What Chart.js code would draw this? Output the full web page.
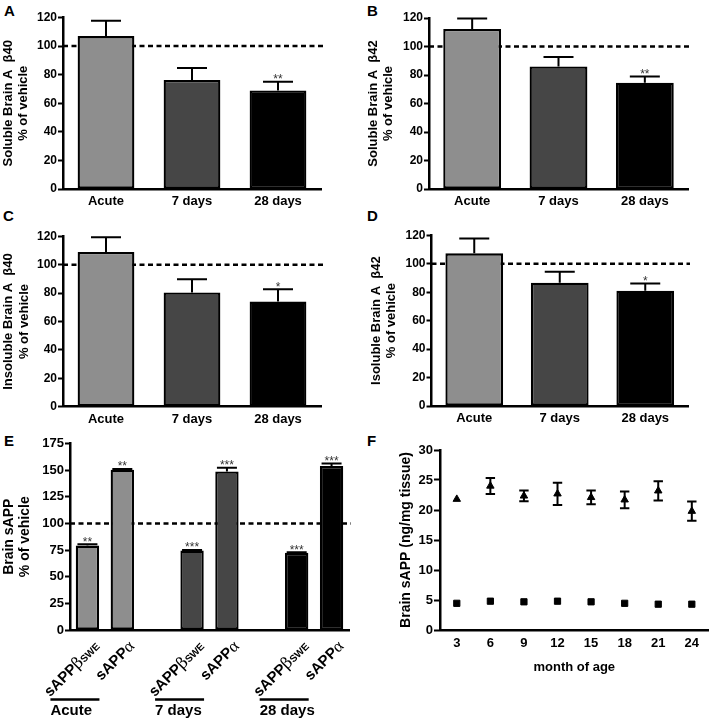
<!DOCTYPE html>
<html><head><meta charset="utf-8">
<script src="https://cdn.jsdelivr.net/npm/chart.js@4"></script>
<style>
html,body{margin:0;padding:0;background:#fff;}
body{width:714px;height:720px;position:relative;overflow:hidden;}
canvas{position:absolute;}
.lt{position:absolute;font:bold 15px "Liberation Sans",Arial,sans-serif;line-height:15px;color:#000;}
</style></head><body>
<div class="lt" style="left:4px;top:3px">A</div>
<div class="lt" style="left:367px;top:3px">B</div>
<div class="lt" style="left:3px;top:208px">C</div>
<div class="lt" style="left:367px;top:208px">D</div>
<div class="lt" style="left:4px;top:433px">E</div>
<div class="lt" style="left:367px;top:433px">F</div>
<canvas id="cA" width="340" height="215" style="left:0;top:0"></canvas>
<canvas id="cB" width="340" height="215" style="left:360px;top:0"></canvas>
<canvas id="cC" width="340" height="213" style="left:0;top:220px"></canvas>
<canvas id="cD" width="340" height="212" style="left:360px;top:220px"></canvas>
<canvas id="cE" width="357" height="290" style="left:0;top:430px"></canvas>
<canvas id="cF" width="354" height="250" style="left:360px;top:430px"></canvas>
<script>
// ---------- data ----------
const timeCategories = ['Acute', '7 days', '28 days'];
const barColors = ['#8e8e8e', '#464646', '#000000'];

const solAb40 = [107, 76.3, 69];
const solAb40Err = [10.7, 8.4, 6];
const solAb40Stars = ['', '', '**'];

const solAb42 = [112.3, 86, 74.6];
const solAb42Err = [7.4, 6.6, 4.3];
const solAb42Stars = ['', '', '**'];

const insolAb40 = [109, 80.4, 74];
const insolAb40Err = [10.3, 9.3, 8.7];
const insolAb40Stars = ['', '', '*'];

const insolAb42 = [107.3, 86.7, 81];
const insolAb42Err = [10.5, 7.7, 5.2];
const insolAb42Stars = ['', '', '*'];

const sappGroups = ['Acute', '7 days', '28 days'];
const sappSlotKinds = ['beta', 'alpha', '', 'beta', 'alpha', '', 'beta', 'alpha'];
const sappValues = [79.2, 150.3, null, 74.5, 148.8, null, 72.4, 153.8];
const sappErr = [1.2, 0.8, null, 0.6, 3.4, null, 0.6, 2.5];
const sappStars = ['**', '**', '', '***', '***', '', '***', '***'];
const sappColors = ['#8e8e8e', '#8e8e8e', null, '#464646', '#464646', null, '#000000', '#000000'];

const months = [3, 6, 9, 12, 15, 18, 21, 24];
const sappTriangle = [21.8, 24.0, 22.35, 22.7, 22.1, 21.7, 23.2, 19.8];
const sappTriangleErr = [0, 1.35, 0.9, 1.85, 1.15, 1.4, 1.6, 1.6];
const sappSquare = [4.45, 4.8, 4.7, 4.8, 4.7, 4.45, 4.3, 4.3];

// ---------- helpers ----------
const FAM = '"Liberation Sans", Arial, sans-serif';
Chart.defaults.font.family = FAM;
Chart.defaults.color = '#000';

function refLinePlugin(value) {
  return {
    id: 'refline',
    beforeDatasetsDraw(chart) {
      const {ctx, chartArea: a, scales: {y}} = chart;
      const py = y.getPixelForValue(value);
      ctx.save();
      ctx.strokeStyle = '#000';
      ctx.lineWidth = 2.5;
      ctx.setLineDash([5, 3.5]);
      ctx.beginPath();
      ctx.moveTo(a.left, py);
      ctx.lineTo(a.right + 2, py);
      ctx.stroke();
      ctx.restore();
    }
  };
}

function errPlugin(values, errs, stars, capHalf, starSize) {
  return {
    id: 'errbars',
    afterDatasetsDraw(chart) {
      const {ctx, scales: {y}} = chart;
      const meta = chart.getDatasetMeta(0);
      ctx.save();
      ctx.strokeStyle = '#000';
      ctx.lineWidth = 2;
      values.forEach((v, i) => {
        if (v == null) return;
        const x = meta.data[i].x;
        const y0 = y.getPixelForValue(v);
        const y1 = y.getPixelForValue(v + errs[i]);
        ctx.beginPath();
        ctx.moveTo(x, y0);
        ctx.lineTo(x, y1);
        ctx.moveTo(x - capHalf, y1);
        ctx.lineTo(x + capHalf, y1);
        ctx.stroke();
        if (stars[i]) {
          ctx.font = starSize + 'px ' + FAM;
          ctx.fillStyle = '#333';
          ctx.textAlign = 'center';
          ctx.textBaseline = 'alphabetic';
          ctx.fillText(stars[i], x, y1 + 1.5);
        }
      });
      ctx.restore();
    }
  };
}

function barPanel(id, c) {
  return new Chart(document.getElementById(id), {
    type: 'bar',
    data: {
      labels: c.labels,
      datasets: [{
        data: c.values,
        backgroundColor: c.colors,
        borderColor: '#000',
        borderWidth: 2.3,
        borderSkipped: false,
        barPercentage: c.barPct,
        categoryPercentage: 1
      }]
    },
    options: {
      responsive: false, animation: false, events: [],
      layout: {padding: {top: c.top, right: c.right, left: 0, bottom: 0}},
      plugins: {legend: {display: false}, tooltip: {enabled: false}},
      scales: {
        x: {
          grid: {display: false, drawTicks: false},
          border: {display: true, color: '#000', width: 2.5},
          ticks: {display: c.xTicks !== false, font: {size: 13, weight: 'bold'}, color: '#000', padding: 5, autoSkip: false, maxRotation: 0},
          afterFit: s => { s.height = c.xHeight; }
        },
        y: {
          min: 0, max: c.max,
          ticks: {stepSize: c.step, font: {size: c.tickSize, weight: 'bold'}, color: '#000', padding: 1},
          grid: {drawOnChartArea: false, drawTicks: true, tickLength: 5, tickWidth: 2, tickColor: '#000'},
          border: {color: '#000', width: 2.5},
          title: {display: true, text: c.title, color: '#000',
                  font: {size: c.titleSize, weight: 'bold', lineHeight: c.titleLH},
                  padding: {top: c.titlePad, bottom: 0}},
          afterFit: s => { s.width = c.yWidth; }
        }
      }
    },
    plugins: [refLinePlugin(100), errPlugin(c.values, c.errs, c.stars, c.cap, c.starSize)].concat(c.extra || [])
  });
}

// ---------- panels A-D ----------
barPanel('cA', {labels: timeCategories, values: solAb40, errs: solAb40Err, stars: solAb40Stars, colors: barColors,
  max: 120, step: 20, tickSize: 12, top: 17.5, right: 19, xHeight: 26, yWidth: 63, barPct: 0.66, cap: 15, starSize: 12,
  title: ['Soluble Brain A  β40', '% of vehicle'], titleSize: 13, titleLH: 1.15, titlePad: 0.5});

barPanel('cB', {labels: timeCategories, values: solAb42, errs: solAb42Err, stars: solAb42Stars, colors: barColors,
  max: 120, step: 20, tickSize: 12, top: 18, right: 12, xHeight: 26, yWidth: 69, barPct: 0.67, cap: 15, starSize: 12,
  title: ['Soluble Brain A  β42', '% of vehicle'], titleSize: 13, titleLH: 1.15, titlePad: 5.5});

barPanel('cC', {labels: timeCategories, values: insolAb40, errs: insolAb40Err, stars: insolAb40Stars, colors: barColors,
  max: 120, step: 20, tickSize: 12, top: 16.3, right: 19, xHeight: 26.3, yWidth: 63, barPct: 0.66, cap: 15, starSize: 12,
  title: ['Insoluble Brain A  β40', '% of vehicle'], titleSize: 13, titleLH: 1.25, titlePad: 0});

barPanel('cD', {labels: timeCategories, values: insolAb42, errs: insolAb42Err, stars: insolAb42Stars, colors: barColors,
  max: 120, step: 20, tickSize: 12, top: 15.3, right: 12, xHeight: 26, yWidth: 71.5, barPct: 0.675, cap: 15, starSize: 12,
  title: ['Isoluble Brain A  β42', '% of vehicle'], titleSize: 13, titleLH: 1.15, titlePad: 8.5});

// ---------- panel E ----------
const eLabelPlugin = {
  id: 'eLabels',
  afterDraw(chart) {
    const {ctx, scales: {x}, chartArea: a} = chart;
    ctx.save();
    ctx.fillStyle = '#000';
    ctx.textBaseline = 'alphabetic';
    ctx.textAlign = 'left';
    sappSlotKinds.forEach((k, i) => {
      if (!k) return;
      const px = x.getPixelForValue(i);
      const parts = k === 'beta'
        ? [['sAPP', 'bold 15px ' + FAM], ['β', '16px "DejaVu Serif", serif'], ['SWE', 'bold 10px ' + FAM]]
        : [['sAPP', 'bold 15px ' + FAM], ['α', '17px "Liberation Serif", serif']];
      let total = 0;
      parts.forEach(p => { ctx.font = p[1]; total += ctx.measureText(p[0]).width; });
      ctx.save();
      ctx.translate(px + 13, a.bottom + 17);
      ctx.rotate(-Math.PI / 4);
      let cx = -total;
      parts.forEach(p => { ctx.font = p[1]; ctx.fillText(p[0], cx, 0); cx += ctx.measureText(p[0]).width; });
      ctx.restore();
    });
    // group underlines & labels
    let g = 0;
    sappSlotKinds.forEach((k, i) => {
      if (k !== 'beta') return;
      const px = x.getPixelForValue(i);
      ctx.strokeStyle = '#000';
      ctx.lineWidth = 2.3;
      ctx.beginPath();
      ctx.moveTo(px - 37, a.bottom + 69.5);
      ctx.lineTo(px + 12, a.bottom + 69.5);
      ctx.stroke();
      ctx.font = 'bold 15px ' + FAM;
      ctx.fillText(sappGroups[g++], px - 37, a.bottom + 85);
    });
    ctx.restore();
  }
};

barPanel('cE', {labels: sappSlotKinds, values: sappValues, errs: sappErr, stars: sappStars, colors: sappColors,
  max: 175, step: 25, tickSize: 13, top: 13.5, right: 8, xHeight: 90, yWidth: 70, barPct: 0.67, cap: 10, starSize: 12,
  xTicks: false,
  title: ['Brain sAPP', '% of vehicle'], titleSize: 14, titleLH: 1.15, titlePad: 1, extra: [eLabelPlugin]});

// ---------- panel F ----------
const fErrPlugin = {
  id: 'fErr',
  beforeDatasetsDraw(chart) {
    const {ctx, scales: {x, y}} = chart;
    ctx.save();
    ctx.strokeStyle = '#000';
    ctx.lineWidth = 2;
    sappTriangle.forEach((v, i) => {
      const e = sappTriangleErr[i];
      if (!e) return;
      const px = x.getPixelForValue(i);
      const yt = y.getPixelForValue(v + e), yb = y.getPixelForValue(v - e);
      ctx.beginPath();
      ctx.moveTo(px, yt); ctx.lineTo(px, yb);
      ctx.moveTo(px - 4.7, yt); ctx.lineTo(px + 4.7, yt);
      ctx.moveTo(px - 4.7, yb); ctx.lineTo(px + 4.7, yb);
      ctx.stroke();
    });
    ctx.restore();
  }
};

new Chart(document.getElementById('cF'), {
  type: 'line',
  data: {
    labels: months,
    datasets: [
      {data: sappTriangle, showLine: false, pointStyle: 'triangle', pointRadius: 4.3, backgroundColor: '#000', borderColor: '#000', borderWidth: 1},
      {data: sappSquare, showLine: false, pointStyle: 'rect', pointRadius: 4.4, backgroundColor: '#000', borderColor: '#000', borderWidth: 1}
    ]
  },
  options: {
    responsive: false, animation: false, events: [],
    layout: {padding: {top: 20, right: 1, left: 0, bottom: 0}},
    plugins: {legend: {display: false}, tooltip: {enabled: false}},
    scales: {
      x: {
        offset: true,
        grid: {display: false, drawTicks: false},
        border: {display: true, color: '#000', width: 2.5},
        ticks: {font: {size: 13, weight: 'bold'}, color: '#000', padding: 6, autoSkip: false, maxRotation: 0},
        title: {display: true, text: 'month of age', color: '#000', font: {size: 13, weight: 'bold'}, padding: {top: 0, bottom: 5}},
        afterFit: s => { s.height = 50; }
      },
      y: {
        min: 0, max: 30,
        ticks: {stepSize: 5, font: {size: 13, weight: 'bold'}, color: '#000', padding: 1},
        grid: {drawOnChartArea: false, drawTicks: true, tickLength: 6, tickWidth: 2, tickColor: '#000'},
        border: {color: '#000', width: 2.5},
        title: {display: true, text: 'Brain sAPP (ng/mg tissue)', color: '#000', font: {size: 14, weight: 'bold'}, padding: {top: 38, bottom: 0}},
        afterFit: s => { s.width = 80; }
      }
    }
  },
  plugins: [fErrPlugin]
});
</script>
</body></html>
